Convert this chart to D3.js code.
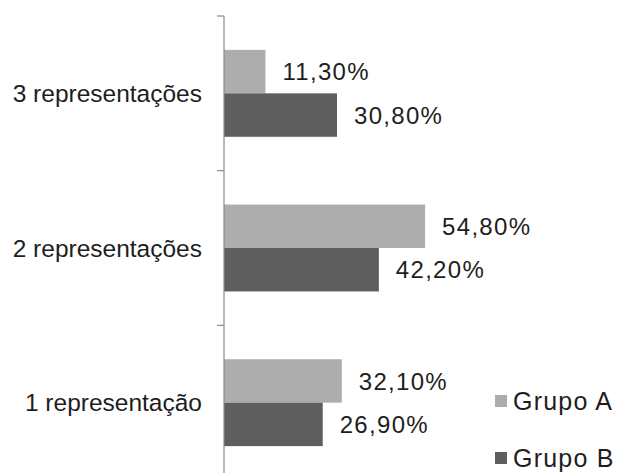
<!DOCTYPE html>
<html lang="pt">
<head>
  <meta charset="UTF-8" />
  <title>representações</title>
  <script src="https://cdn.jsdelivr.net/npm/d3@7"></script>
  <style>
    body { margin: 0; background: #fff; }
    text { font-family: "Liberation Sans", Arial, sans-serif; fill: #1e1e1e; }
  </style>
</head>
<body>
  <svg id="svg"></svg>
<script>
  const categories = ["3 representações", "2 representações", "1 representação"];
  const series = ["Grupo A", "Grupo B"];
  const grupoA = [11.3, 54.8, 32.1];
  const grupoB = [30.8, 42.2, 26.9];
  const colors = ["#adadad", "#5e5e5e"];

  const width = 619;
  const height = 473;
  const axisX = 224;

  const svg = d3.select("#svg").attr("width", width).attr("height", height);

  // escalas
  const yScale = d3.scaleBand()
    .domain(categories)
    .range([16, 480])
    .paddingInner(0)
    .paddingOuter(0);

  const subScale = d3.scaleBand()
    .domain(series)
    .range([0, yScale.bandwidth()])
    .paddingInner(0)
    .paddingOuter(0.78);

  const xScale = d3.scaleLinear().domain([0, 100]).range([axisX, axisX + 367]);

  const fmt = (v) => v.toFixed(2).replace(".", ",") + "%";

  const rows = categories.map((c, i) => ({ cat: c, values: [grupoA[i], grupoB[i]] }));

  const g = svg.append("g");

  rows.forEach((row) => {
    row.values.forEach((v, j) => {
      const y = yScale(row.cat) + subScale(series[j]);
      g.append("rect")
        .attr("x", xScale(0))
        .attr("y", y)
        .attr("width", xScale(v) - xScale(0))
        .attr("height", subScale.bandwidth())
        .attr("fill", colors[j]);

      g.append("text")
        .attr("x", xScale(v) + 17)
        .attr("y", y + subScale.bandwidth() / 2)
        .attr("dy", "0.36em")
        .attr("font-size", 24)
        .attr("letter-spacing", 1.3)
        .text(fmt(v));
    });

    g.append("text")
      .attr("x", axisX - 22)
      .attr("y", yScale(row.cat) + yScale.bandwidth() / 2)
      .attr("dy", "0.36em")
      .attr("text-anchor", "end")
      .attr("font-size", 24.5)
      .text(row.cat);
  });

  // eixo vertical
  const axis = svg.append("g").attr("stroke", "#8a8a8a").attr("stroke-width", 1.2);
  axis.append("line")
    .attr("x1", axisX).attr("x2", axisX)
    .attr("y1", yScale.range()[0]).attr("y2", height);
  categories.forEach((c) => {
    axis.append("line")
      .attr("x1", axisX - 7).attr("x2", axisX)
      .attr("y1", yScale(c)).attr("y2", yScale(c));
  });

  // legenda
  const legend = svg.append("g");
  series.forEach((s, i) => {
    const cy = 401 + i * 57;
    legend.append("rect")
      .attr("x", 495).attr("y", cy - 6)
      .attr("width", 12).attr("height", 12)
      .attr("fill", colors[i]);
    legend.append("text")
      .attr("x", 513).attr("y", cy)
      .attr("dy", "0.36em")
      .attr("font-size", 25)
      .attr("letter-spacing", 1.2)
      .text(s);
  });
</script>
</body>
</html>
